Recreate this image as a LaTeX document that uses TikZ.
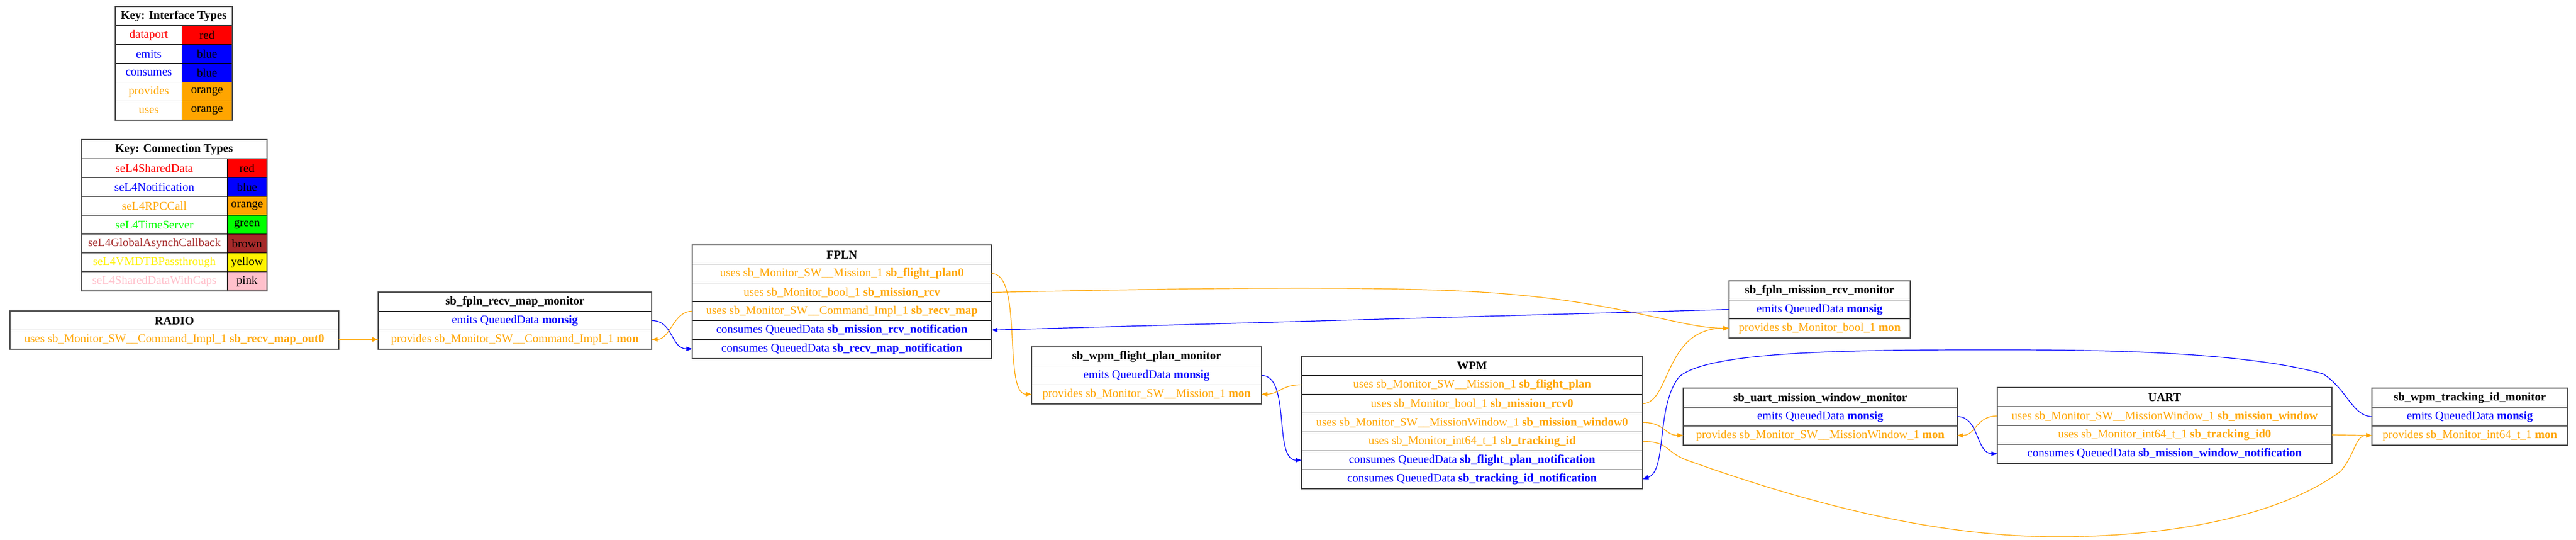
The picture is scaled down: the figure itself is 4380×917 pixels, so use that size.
\documentclass[tikz,border=0pt]{standalone}
\usepackage{fontspec}
\setmainfont{Liberation Serif}
\usetikzlibrary{arrows.meta,positioning}
\definecolor{gvorange}{RGB}{255,165,0}
\definecolor{gvbrown}{RGB}{165,42,42}
\definecolor{gvpink}{RGB}{255,192,203}
\definecolor{gvgreen}{RGB}{0,255,0}
\tikzset{
    cell/.style={draw, line width=0.75pt, inner sep=0pt, minimum height=24pt, anchor=north west,
        font=\fontsize{15}{17}\selectfont},
    cellw/.style={minimum width=#1*0.75pt},
    ptitle/.style={cell, font=\fontsize{15}{17}\selectfont\bfseries},
    porange/.style={cell, text=gvorange},
    pblue/.style={cell, text=blue},
    frame/.style={draw=black!70, line width=1.3pt},
    oedge/.style={draw=gvorange, line width=0.9pt, -{Triangle[length=7.5pt, width=5.5pt]}},
    bedge/.style={draw=blue, line width=0.9pt, -{Triangle[length=7.5pt, width=5.5pt]}},
}

\begin{document}
\begin{tikzpicture}[x=0.75pt, y=-0.75pt]
        \useasboundingbox (0, 0) rectangle (4380, 917);

        % key: interface types
        \node[ptitle, cellw=198] (ikeyT) at (196, 11) {Key: Interface Types};
        \foreach \lbl/\col/\txt [count=\i from 0] in {dataport/red/red, emits/blue/blue, consumes/blue/blue, provides/gvorange/orange, uses/gvorange/orange} {
            \node[cell, cellw=113, text=\col] (ikeyL\i) at (196, 43 + 32*\i) {\lbl};
            \node[cell, cellw=85, fill=\col] (ikeyR\i) at (309, 43 + 32*\i) {\txt};
        }
        \draw[frame] (ikeyT.north west) rectangle (ikeyR4.south east);

        % key: connection types
        \node[ptitle, cellw=315] (ckeyT) at (138, 237) {Key: Connection Types};
        \foreach \lbl/\col/\txt [count=\i from 0] in {seL4SharedData/red/red, seL4Notification/blue/blue, seL4RPCCall/gvorange/orange, seL4TimeServer/gvgreen/green, seL4GlobalAsynchCallback/gvbrown/brown, seL4VMDTBPassthrough/yellow/yellow, seL4SharedDataWithCaps/gvpink/pink} {
            \node[cell, cellw=248, text=\col] (ckeyL\i) at (138, 269 + 32*\i) {\lbl};
            \node[cell, cellw=67, fill=\col] (ckeyR\i) at (386, 269 + 32*\i) {\txt};
        }
        \draw[frame] (ckeyT.north west) rectangle (ckeyR6.south east);

        % RADIO
        \node[ptitle, cellw=558] (radioT) at (17, 528) {RADIO};
        \node[porange, cellw=558] (radio1) at (17, 560) {uses sb\_Monitor\_SW\_\_Command\_Impl\_1 \textbf{sb\_recv\_map\_out0}};
        \draw[frame] (radioT.north west) rectangle (radio1.south east);

        % sb_fpln_recv_map_monitor
        \node[ptitle, cellw=464] (recvT) at (643, 496) {sb\_fpln\_recv\_map\_monitor};
        \node[pblue, cellw=464] (recv1) at (643, 528) {emits QueuedData \textbf{monsig}};
        \node[porange, cellw=464] (recv2) at (643, 560) {provides sb\_Monitor\_SW\_\_Command\_Impl\_1 \textbf{mon}};
        \draw[frame] (recvT.north west) rectangle (recv2.south east);

        % FPLN
        \node[ptitle, cellw=508] (fplnT) at (1177, 416) {FPLN};
        \node[porange, cellw=508] (fpln1) at (1177, 448) {uses sb\_Monitor\_SW\_\_Mission\_1 \textbf{sb\_flight\_plan0}};
        \node[porange, cellw=508] (fpln2) at (1177, 480) {uses sb\_Monitor\_bool\_1 \textbf{sb\_mission\_rcv}};
        \node[porange, cellw=508] (fpln3) at (1177, 512) {uses sb\_Monitor\_SW\_\_Command\_Impl\_1 \textbf{sb\_recv\_map}};
        \node[pblue, cellw=508] (fpln4) at (1177, 544) {consumes QueuedData \textbf{sb\_mission\_rcv\_notification}};
        \node[pblue, cellw=508] (fpln5) at (1177, 576) {consumes QueuedData \textbf{sb\_recv\_map\_notification}};
        \draw[frame] (fplnT.north west) rectangle (fpln5.south east);

        % sb_wpm_flight_plan_monitor
        \node[ptitle, cellw=390] (wfpT) at (1754, 589) {sb\_wpm\_flight\_plan\_monitor};
        \node[pblue, cellw=390] (wfp1) at (1754, 621) {emits QueuedData \textbf{monsig}};
        \node[porange, cellw=390] (wfp2) at (1754, 653) {provides sb\_Monitor\_SW\_\_Mission\_1 \textbf{mon}};
        \draw[frame] (wfpT.north west) rectangle (wfp2.south east);

        % WPM
        \node[ptitle, cellw=579] (wpmT) at (2213, 605) {WPM};
        \node[porange, cellw=579] (wpm1) at (2213, 637) {uses sb\_Monitor\_SW\_\_Mission\_1 \textbf{sb\_flight\_plan}};
        \node[porange, cellw=579] (wpm2) at (2213, 669) {uses sb\_Monitor\_bool\_1 \textbf{sb\_mission\_rcv0}};
        \node[porange, cellw=579] (wpm3) at (2213, 701) {uses sb\_Monitor\_SW\_\_MissionWindow\_1 \textbf{sb\_mission\_window0}};
        \node[porange, cellw=579] (wpm4) at (2213, 733) {uses sb\_Monitor\_int64\_t\_1 \textbf{sb\_tracking\_id}};
        \node[pblue, cellw=579] (wpm5) at (2213, 765) {consumes QueuedData \textbf{sb\_flight\_plan\_notification}};
        \node[pblue, cellw=579] (wpm6) at (2213, 797) {consumes QueuedData \textbf{sb\_tracking\_id\_notification}};
        \draw[frame] (wpmT.north west) rectangle (wpm6.south east);

        % sb_fpln_mission_rcv_monitor
        \node[ptitle, cellw=307] (mrcvT) at (2940, 477) {sb\_fpln\_mission\_rcv\_monitor};
        \node[pblue, cellw=307] (mrcv1) at (2940, 509) {emits QueuedData \textbf{monsig}};
        \node[porange, cellw=307] (mrcv2) at (2940, 541) {provides sb\_Monitor\_bool\_1 \textbf{mon}};
        \draw[frame] (mrcvT.north west) rectangle (mrcv2.south east);

        % sb_uart_mission_window_monitor
        \node[ptitle, cellw=465] (umwT) at (2862, 659) {sb\_uart\_mission\_window\_monitor};
        \node[pblue, cellw=465] (umw1) at (2862, 691) {emits QueuedData \textbf{monsig}};
        \node[porange, cellw=465] (umw2) at (2862, 723) {provides sb\_Monitor\_SW\_\_MissionWindow\_1 \textbf{mon}};
        \draw[frame] (umwT.north west) rectangle (umw2.south east);

        % UART
        \node[ptitle, cellw=568] (uartT) at (3396, 658) {UART};
        \node[porange, cellw=568] (uart1) at (3396, 690) {uses sb\_Monitor\_SW\_\_MissionWindow\_1 \textbf{sb\_mission\_window}};
        \node[porange, cellw=568] (uart2) at (3396, 722) {uses sb\_Monitor\_int64\_t\_1 \textbf{sb\_tracking\_id0}};
        \node[pblue, cellw=568] (uart3) at (3396, 754) {consumes QueuedData \textbf{sb\_mission\_window\_notification}};
        \draw[frame] (uartT.north west) rectangle (uart3.south east);

        % sb_wpm_tracking_id_monitor
        \node[ptitle, cellw=332] (tidT) at (4033, 659) {sb\_wpm\_tracking\_id\_monitor};
        \node[pblue, cellw=332] (tid1) at (4033, 691) {emits QueuedData \textbf{monsig}};
        \node[porange, cellw=332] (tid2) at (4033, 723) {provides sb\_Monitor\_int64\_t\_1 \textbf{mon}};
        \draw[frame] (tidT.north west) rectangle (tid2.south east);

        % connections
        \draw[oedge] (radio1.east) -- (recv2.west);
        \draw[bedge] (recv1.east) .. controls (1145, 544) and (1140, 592) .. (fpln5.west);
        \draw[oedge] (fpln3.west) .. controls (1145, 528) and (1140, 576) .. (recv2.east);
        \draw[oedge] (fpln1.east) .. controls (1740, 464) and (1705, 669) .. (wfp2.west);
        \draw[oedge] (fpln2.east) .. controls (2000, 490) and (2300, 485) .. (2500, 495)
            .. controls (2750, 508) and (2850, 557) .. (mrcv2.west);
        \draw[bedge] (mrcv1.west) -- (fpln4.east);
        \draw[oedge] (wpm1.west) .. controls (2180, 653) and (2175, 669) .. (wfp2.east);
        \draw[bedge] (wfp1.east) .. controls (2195, 637) and (2165, 781) .. (wpm5.west);
        \draw[oedge] (wpm2.east) .. controls (2840, 685) and (2830, 557) .. (mrcv2.west);
        \draw[oedge] (wpm3.east) .. controls (2830, 717) and (2830, 739) .. (umw2.west);
        \draw[oedge] (wpm4.east) .. controls (2840, 750) and (2830, 768) .. (2870, 782)
            .. controls (3200, 900) and (3400, 915) .. (3540, 911)
            .. controls (3750, 905) and (3900, 860) .. (3980, 800)
            .. controls (4005, 770) and (4005, 739) .. (tid2.west);
        \draw[bedge] (tid1.west) .. controls (4000, 707) and (3990, 660) .. (3950, 635)
            .. controls (3800, 592) and (3500, 594) .. (3360, 594)
            .. controls (3100, 594) and (2900, 600) .. (2855, 640)
            .. controls (2815, 690) and (2835, 800) .. (wpm6.east);
        \draw[oedge] (uart1.west) .. controls (3360, 706) and (3360, 739) .. (umw2.east);
        \draw[bedge] (umw1.east) .. controls (3365, 707) and (3360, 770) .. (uart3.west);
        \draw[oedge] (uart2.east) -- (tid2.west);
    \end{tikzpicture}
\end{document}
